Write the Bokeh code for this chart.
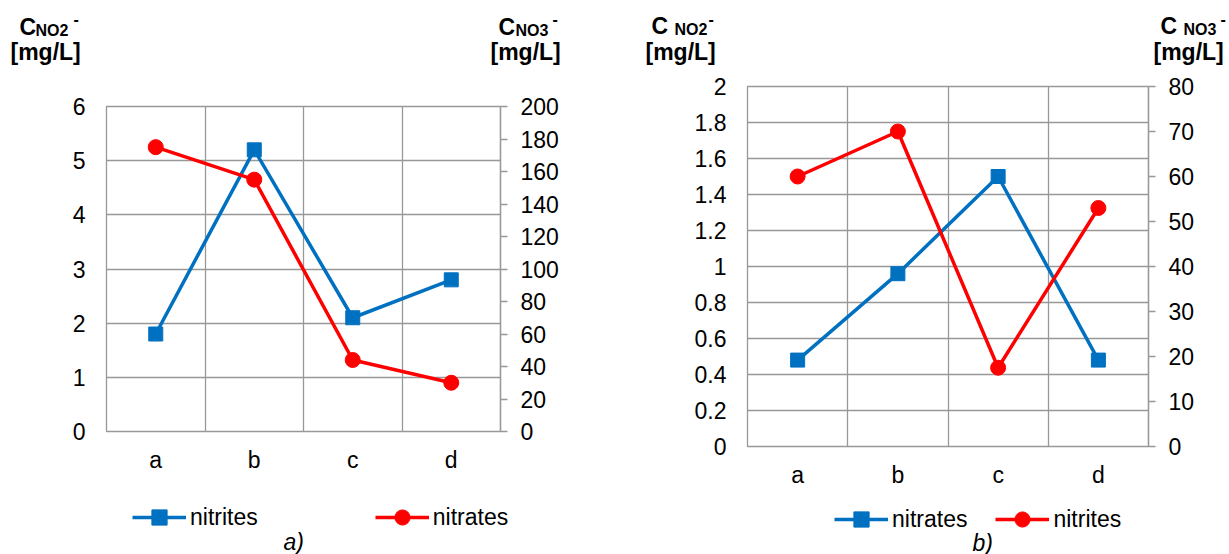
from bokeh.plotting import figure
from bokeh.layouts import row, column
from bokeh.models import (Range1d, LinearAxis, SingleIntervalTicker, FixedTicker,
                          CustomJSTickFormatter, Label, Legend, LegendItem)
from bokeh.embed import file_html
from bokeh.resources import INLINE

# ---------------- data ----------------
categories = ["a", "b", "c", "d"]
# chart a)
a_nitrites = [1.8, 5.2, 2.1, 2.8]        # left axis (C NO2-)
a_nitrates = [175, 155, 44, 30]          # right axis (C NO3-)
# chart b)
b_nitrates = [0.48, 0.96, 1.5, 0.48]     # left axis, blue series
b_nitrites = [60, 70, 17.5, 53]          # right axis, red series

BLUE = "#0070C0"
RED = "#FF0000"
GRID = "#989898"
FONT = "Liberation Sans"
FS = "23px"
SUB = "16px"
TEXT_SHIFT = 7   # renderer places alphabetic baseline a little low

HEAD_H = 70
MAIN_H = 420
FOOT_H = 64


def no_align(p):
    if "frame_align" in p.properties():
        p.frame_align = False
    return p


def blank(width, height):
    p = figure(width=width, height=height, x_range=Range1d(0, width),
               y_range=Range1d(height, 0), x_axis_type=None, y_axis_type=None,
               min_border=0, output_backend="svg", toolbar_location=None)
    p.outline_line_color = None
    p.background_fill_color = "white"
    p.border_fill_color = "white"
    return no_align(p)


def add_text(p, txt, x, y, size, style):
    p.add_layout(Label(x=x, y=y - TEXT_SHIFT, text=txt, text_font=FONT,
                       text_font_size=size, text_font_style=style, text_color="black",
                       text_align="left", text_baseline="alphabetic"))


def make_main(left_max, left_step, right_max, right_step, blue_vals, red_vals,
              frame_w, frame_h, bl, bt, width):
    p = figure(x_range=categories, y_range=Range1d(0, left_max),
               width=width, height=MAIN_H, frame_width=frame_w, frame_height=frame_h,
               min_border_left=bl, min_border_top=bt,
               min_border_right=width - bl - frame_w,
               min_border_bottom=MAIN_H - bt - frame_h,
               output_backend="svg", toolbar_location=None)
    no_align(p)
    p.x_range.range_padding = 0
    p.background_fill_color = "white"
    p.border_fill_color = "white"
    p.outline_line_color = GRID
    p.outline_line_width = 1.3
    p.extra_y_ranges = {"r": Range1d(0, right_max)}

    ya = p.yaxis[0]
    ya.ticker = SingleIntervalTicker(interval=left_step, num_minor_ticks=0)
    ya.formatter = CustomJSTickFormatter(code="return (Math.round(tick*10)/10).toString();")
    ya.major_tick_out = 0
    ya.major_tick_in = 0
    ya.minor_tick_line_color = None
    ya.axis_line_color = GRID
    ya.major_label_standoff = 21
    ya.major_label_text_font = FONT
    ya.major_label_text_font_size = FS
    ya.major_label_text_color = "black"

    ra = LinearAxis(y_range_name="r",
                    ticker=SingleIntervalTicker(interval=right_step, num_minor_ticks=0))
    ra.major_tick_out = 7
    ra.major_tick_in = 0
    ra.major_tick_line_color = GRID
    ra.major_tick_line_width = 1.3
    ra.minor_tick_line_color = None
    ra.axis_line_color = GRID
    ra.axis_line_width = 1.3
    ra.major_label_standoff = 13
    ra.major_label_text_font = FONT
    ra.major_label_text_font_size = FS
    ra.major_label_text_color = "black"
    p.add_layout(ra, "right")

    xa = p.xaxis[0]
    xa.major_tick_out = 0
    xa.major_tick_in = 0
    xa.major_tick_line_color = None
    xa.axis_line_color = GRID
    xa.major_label_standoff = 15
    xa.major_label_text_font = FONT
    xa.major_label_text_font_size = FS
    xa.major_label_text_color = "black"

    p.xgrid.ticker = FixedTicker(ticks=[1, 2, 3])
    p.xgrid.grid_line_color = GRID
    p.xgrid.grid_line_width = 1.3
    p.ygrid.grid_line_color = GRID
    p.ygrid.grid_line_width = 1.3

    p.line(categories, blue_vals, line_color=BLUE, line_width=3.5)
    p.scatter(categories, blue_vals, marker="square", size=14,
              fill_color=BLUE, line_color=BLUE)
    p.line(categories, red_vals, line_color=RED, line_width=3.5, y_range_name="r")
    p.scatter(categories, red_vals, marker="circle", size=15,
              fill_color=RED, line_color=RED, y_range_name="r")
    return p


def make_header(width, titles):
    p = blank(width, HEAD_H)
    for txt, x, y, size, style in titles:
        add_text(p, txt, x, y, size, style)
    return p


def make_footer(width, blue_name, red_name, leg_x, leg_center_y, spacing, tag):
    p = blank(width, FOOT_H)
    # hidden proxy renderers that only provide the legend's glyph styles
    bl_r = p.line([0], [0], line_color=BLUE, line_width=3.5, visible=False)
    bs_r = p.scatter([0], [0], marker="square", size=14, fill_color=BLUE,
                     line_color=BLUE, visible=False)
    rl_r = p.line([0], [0], line_color=RED, line_width=3.5, visible=False)
    rs_r = p.scatter([0], [0], marker="circle", size=14, fill_color=RED,
                     line_color=RED, visible=False)
    gh = 38
    legend = Legend(items=[LegendItem(label=blue_name, renderers=[bl_r, bs_r]),
                           LegendItem(label=red_name, renderers=[rl_r, rs_r])],
                    orientation="horizontal",
                    location=(leg_x, FOOT_H - (leg_center_y + gh / 2)),
                    glyph_width=54, glyph_height=gh, label_standoff=4,
                    spacing=spacing, padding=0, margin=0,
                    border_line_color=None, background_fill_alpha=0,
                    label_text_font=FONT, label_text_font_size=FS,
                    label_text_color="black")
    p.add_layout(legend, "center")
    add_text(p, tag[0], tag[1], tag[2], FS, "italic")
    return p


W1, W2 = 615, 614
X2 = W1  # left edge of second chart in the picture

titles_a = [("C", 19, 33, FS, "bold"), ("NO2", 35, 37, SUB, "bold"),
            ("-", 73, 25, SUB, "bold"), ("[mg/L]", 10, 58.5, FS, "bold"),
            ("C", 498, 33, FS, "bold"), ("NO3", 515, 37, SUB, "bold"),
            ("-", 552, 25, SUB, "bold"), ("[mg/L]", 490, 58.5, FS, "bold")]
titles_b = [("C", 651 - X2, 32, FS, "bold"), ("NO2", 674 - X2, 36, SUB, "bold"),
            ("-", 708 - X2, 25, SUB, "bold"), ("[mg/L]", 645 - X2, 58, FS, "bold"),
            ("C", 1160 - X2, 32, FS, "bold"), ("NO3", 1183 - X2, 36, SUB, "bold"),
            ("-", 1220 - X2, 25, SUB, "bold"), ("[mg/L]", 1153 - X2, 58, FS, "bold")]

foot0 = HEAD_H + MAIN_H

h1 = make_header(W1, titles_a)
m1 = make_main(6, 1, 200, 20, a_nitrites, a_nitrates,
               frame_w=394, frame_h=325, bl=106, bt=106 - HEAD_H, width=W1)
f1 = make_footer(W1, "nitrites", "nitrates", 132, 517 - foot0, 117,
                 ("a)", 283, 548 - foot0))

h2 = make_header(W2, titles_b)
m2 = make_main(2, 0.2, 80, 10, b_nitrates, b_nitrites,
               frame_w=401, frame_h=360, bl=747 - X2, bt=86 - HEAD_H, width=W2)
f2 = make_footer(W2, "nitrates", "nitrites", 834 - X2, 519 - foot0, 28,
                 ("b)", 972 - X2, 549 - foot0))

layout = row(column(h1, m1, f1), column(h2, m2, f2))
open("out.html", "w").write(file_html(layout, INLINE))
